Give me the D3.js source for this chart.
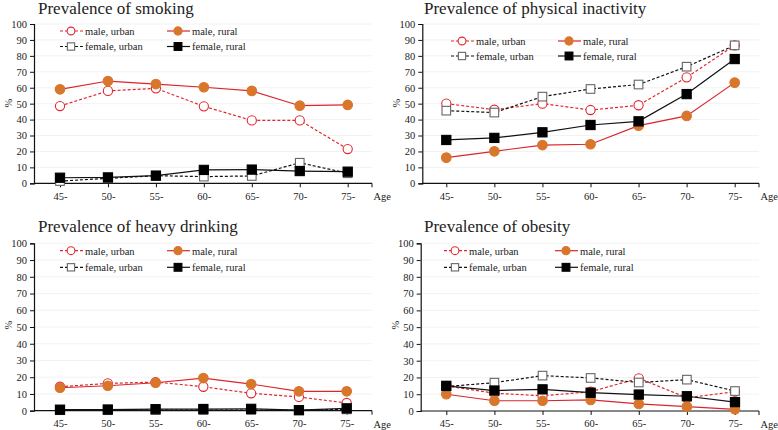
<!DOCTYPE html>
<html><head><meta charset="utf-8">
<script src="https://cdn.jsdelivr.net/npm/d3@7"></script>
</head><body style="margin:0;background:#fff"><svg id="c" width="778" height="430" style="display:block"></svg>
<script>
const categories = ["45-","50-","55-","60-","65-","70-","75-"];
const yTicks = [0,10,20,30,40,50,60,70,80,90,100];
const seriesNames = ["male, urban","male, rural","female, urban","female, rural"];
const titles = ["Prevalence of smoking","Prevalence of physical inactivity","Prevalence of heavy drinking","Prevalence of obesity"];

const smokingMaleUrban   = [48.5,58.0,59.6,48.3,39.5,39.5,21.5];
const smokingMaleRural   = [59.0,64.2,62.3,60.3,58.0,48.7,49.2];
const smokingFemaleUrban = [1.4,3.1,4.8,4.2,4.6,12.9,6.3];
const smokingFemaleRural = [3.5,3.7,4.8,8.4,8.6,7.7,7.3];

const inactMaleUrban   = [50.0,46.2,50.0,46.0,49.0,66.5,86.6];
const inactMaleRural   = [16.1,20.1,24.0,24.5,36.2,42.3,63.2];
const inactFemaleUrban = [45.6,44.4,54.4,59.2,62.0,73.2,86.6];
const inactFemaleRural = [27.2,28.5,32.0,36.6,38.9,56.0,78.0];

const drinkMaleUrban   = [14.3,16.3,17.1,14.3,10.4,8.2,4.6];
const drinkMaleRural   = [13.7,14.9,16.7,19.5,15.9,11.6,11.6];
const drinkFemaleUrban = [0.3,0.3,0.4,0.4,0.4,0.3,0.8];
const drinkFemaleRural = [0.6,0.7,0.9,1.0,1.1,0.3,1.4];

const obesMaleUrban   = [15.0,10.6,9.1,11.5,19.5,7.9,11.5];
const obesMaleRural   = [10.0,6.1,6.1,6.6,4.2,2.6,1.0];
const obesFemaleUrban = [14.6,16.9,21.1,19.7,17.0,18.7,11.9];
const obesFemaleRural = [15.0,12.2,12.9,10.9,9.8,8.8,5.3];

const panelData = [
  [smokingMaleUrban, smokingMaleRural, smokingFemaleUrban, smokingFemaleRural],
  [inactMaleUrban, inactMaleRural, inactFemaleUrban, inactFemaleRural],
  [drinkMaleUrban, drinkMaleRural, drinkFemaleUrban, drinkFemaleRural],
  [obesMaleUrban, obesMaleRural, obesFemaleUrban, obesFemaleRural]
];

const FONT = "'Liberation Serif', 'Times New Roman', 'DejaVu Serif', serif";

const layouts = [
  {ax:34, axEnd:372, x0:60, x1:347.7, y0:183.3, y100:24, titleX:38, titleY:14, pctY:103,
   leg:{r1:31, r2:46.5, c1:60, c2:167}},
  {ax:422.3, axEnd:759, x0:446.3, x1:734.7, y0:183.3, y100:24, titleX:424, titleY:14, pctY:103,
   leg:{r1:41, r2:56, c1:451, c2:558}},
  {ax:34, axEnd:372, x0:60, x1:346.7, y0:410.7, y100:243.3, titleX:38, titleY:231.5, pctY:325,
   leg:{r1:250.7, r2:267.3, c1:60, c2:167}},
  {ax:420.7, axEnd:759, x0:446.3, x1:735, y0:411, y100:243.3, titleX:424, titleY:231.5, pctY:325,
   leg:{r1:250.7, r2:267.3, c1:444, c2:555}}
];

const styles = [
  {line:"#e0262e", dash:"3,2", marker:"circle", fill:"#fff", stroke:"#e0262e"},
  {line:"#d9262c", dash:null, marker:"circle", fill:"#d8762c", stroke:"#d8762c"},
  {line:"#111", dash:"3,2", marker:"square", fill:"#fff", stroke:"#666"},
  {line:"#111", dash:null, marker:"square", fill:"#000", stroke:"#000"}
];

const svg = d3.select("#c");

function drawMarker(g, st, x, y, big){
  const s = big ? 1 : 0.85;
  if (st.marker === "circle") {
    g.append("circle").attr("cx",x).attr("cy",y).attr("r",(st.fill==="#fff"?4.6:4.8)*s)
      .attr("fill",st.fill).attr("stroke",st.stroke).attr("stroke-width",1.1);
  } else {
    const h = (st.fill==="#fff"?4.3:4.6)*s;
    g.append("rect").attr("x",x-h).attr("y",y-h).attr("width",2*h).attr("height",2*h)
      .attr("fill",st.fill).attr("stroke",st.stroke).attr("stroke-width",1.1);
  }
}

layouts.forEach((L, pi) => {
  const g = svg.append("g");
  const x = d3.scalePoint().domain(categories).range([L.x0, L.x1]);
  const y = d3.scaleLinear().domain([0,100]).range([L.y0, L.y100]);

  g.selectAll(".grid").data(yTicks.filter(d=>d>0)).enter().append("line")
    .attr("x1",L.ax).attr("x2",L.axEnd).attr("y1",d=>y(d)).attr("y2",d=>y(d))
    .attr("stroke","#efefef").attr("stroke-width",0.8);

  const ya = g.append("g").attr("transform",`translate(${L.ax},0)`)
    .call(d3.axisLeft(y).tickValues(yTicks).tickSize(4).tickPadding(3));
  ya.select(".domain").attr("stroke","#111").attr("stroke-width",1.2);
  ya.selectAll(".tick line").attr("stroke","#111");
  ya.selectAll("text").attr("font-size",10.5);

  const xa = g.append("g").attr("transform",`translate(0,${L.y0})`)
    .call(d3.axisBottom(x).tickSize(4).tickPadding(5));
  xa.select(".domain").remove();
  xa.selectAll(".tick line").attr("stroke","#111");
  xa.selectAll("text").attr("font-size",10.5);
  g.append("line").attr("x1",L.ax).attr("x2",L.axEnd).attr("y1",L.y0).attr("y2",L.y0)
    .attr("stroke","#111").attr("stroke-width",1.2);
  g.append("line").attr("x1",L.axEnd).attr("x2",L.axEnd).attr("y1",L.y0).attr("y2",L.y0+4)
    .attr("stroke","#111");
  g.append("text").attr("x",L.axEnd+1.5).attr("y",L.y0+17).text("Age").attr("font-size",10.5);

  g.append("text").attr("transform",`translate(${L.ax-22},${L.pctY}) rotate(-90)`)
    .attr("text-anchor","middle").text("%").attr("font-size",10.5);

  g.append("text").attr("x",L.titleX).attr("y",L.titleY).text(titles[pi]).attr("font-size",17);

  const line = d3.line().x((d,i)=>x(categories[i])).y(d=>y(d));
  panelData[pi].forEach((vals, si) => {
    const st = styles[si];
    g.append("path").datum(vals).attr("d",line).attr("fill","none")
      .attr("stroke",st.line).attr("stroke-width",1.2)
      .attr("stroke-dasharray",st.dash);
  });
  panelData[pi].forEach((vals, si) => {
    const st = styles[si];
    vals.forEach((v,i)=>drawMarker(g, st, x(categories[i]), y(v), true));
  });

  const Lg = L.leg;
  const pos = [[Lg.c1,Lg.r1],[Lg.c2,Lg.r1],[Lg.c1,Lg.r2],[Lg.c2,Lg.r2]];
  seriesNames.forEach((nm, si) => {
    const st = styles[si];
    const [lx, ly] = pos[si];
    g.append("line").attr("x1",lx).attr("x2",lx+23).attr("y1",ly).attr("y2",ly)
      .attr("stroke",st.line).attr("stroke-width",1.2).attr("stroke-dasharray",st.dash);
    drawMarker(g, st, lx+11, ly, false);
    g.append("text").attr("x",lx+25).attr("y",ly+3.8).text(nm).attr("font-size",10.5);
  });
});

svg.selectAll("g").attr("font-family", null);
svg.selectAll("text").attr("font-family", FONT).style("font-family", FONT).attr("fill","#222");
</script></body></html>
